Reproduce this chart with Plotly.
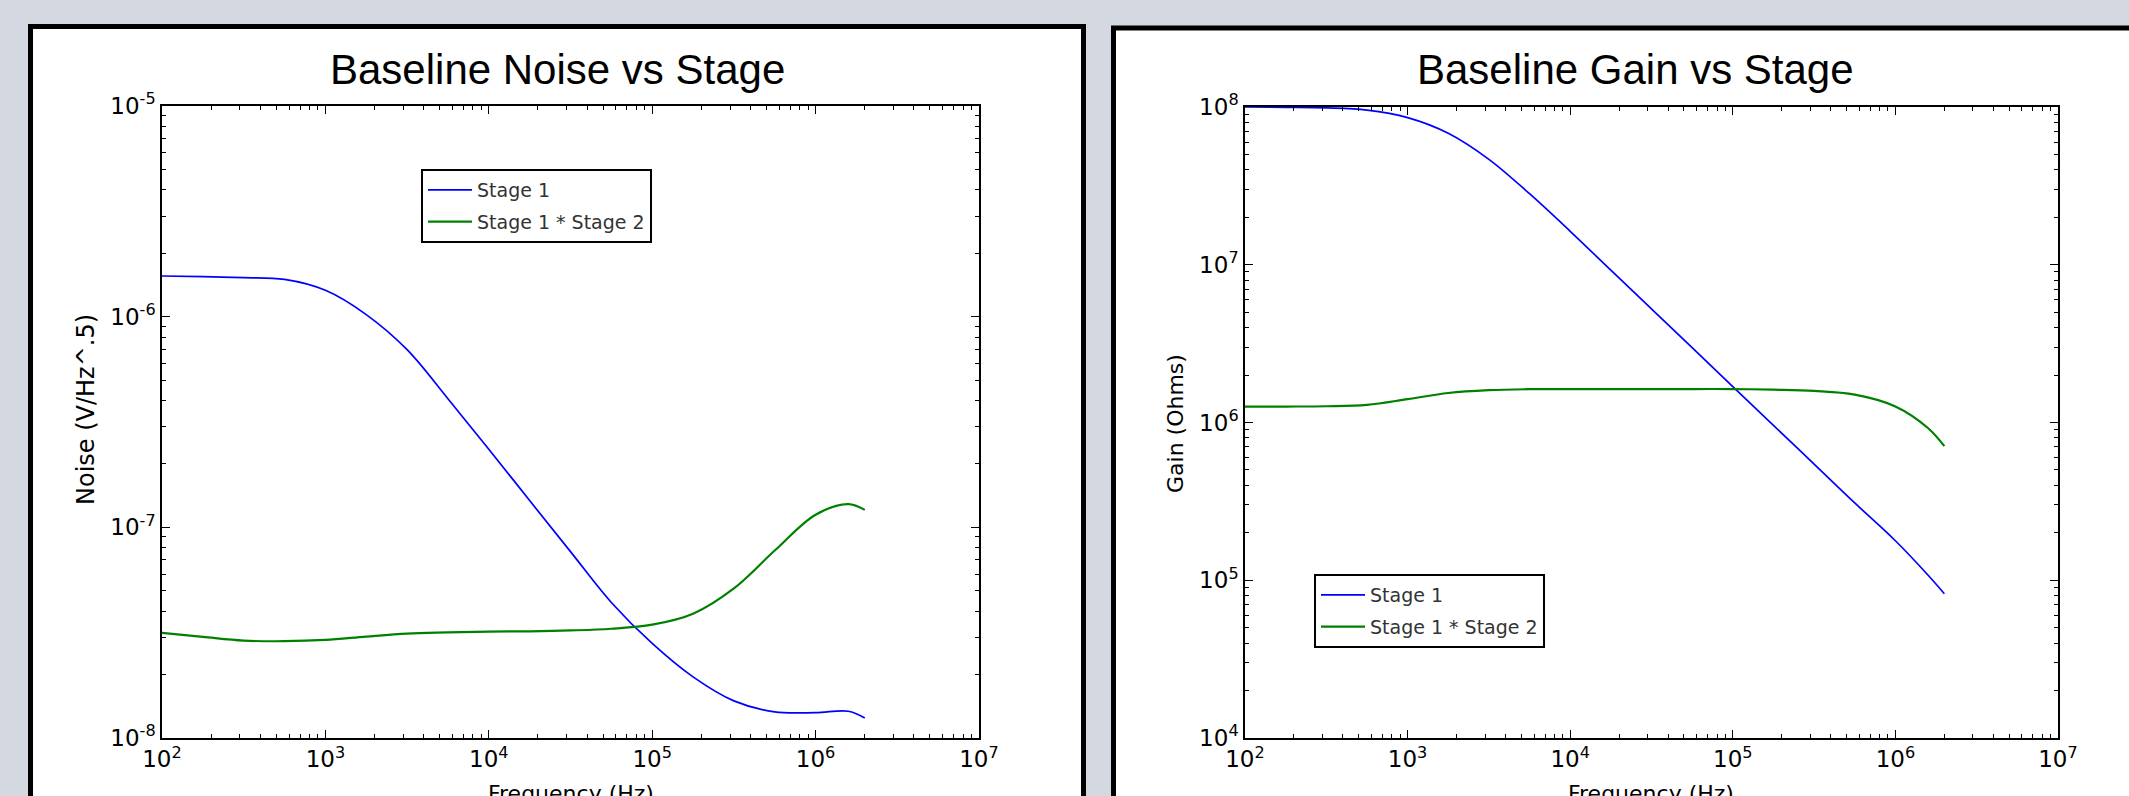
import plotly.graph_objects as go

W, H = 2129, 796

# ---------------- data ----------------
freq_hz = [100, 178, 316, 562, 1000, 1778, 3162, 5623, 1e4, 1.778e4, 3.162e4,
           5.623e4, 1e5, 1.778e5, 3.162e5, 5.623e5, 1e6, 1.585e6, 2e6]

noise_stage1 = [1.56e-6, 1.549e-6, 1.531e-6, 1.503e-6, 1.334e-6, 1.023e-6, 6.97e-7,
                4.08e-7, 2.35e-7, 1.34e-7, 7.67e-8, 4.40e-8, 2.81e-8, 1.95e-8,
                1.50e-8, 1.33e-8, 1.32e-8, 1.34e-8, 1.245e-8]
noise_stage12 = [3.155e-8, 3.02e-8, 2.90e-8, 2.88e-8, 2.92e-8, 3.03e-8, 3.13e-8,
                 3.17e-8, 3.20e-8, 3.21e-8, 3.24e-8, 3.30e-8, 3.45e-8, 3.89e-8,
                 5.13e-8, 7.76e-8, 1.148e-7, 1.29e-7, 1.21e-7]

gain_stage1 = [1.0e8, 9.95e7, 9.86e7, 9.55e7, 8.57e7, 6.82e7, 4.66e7, 2.82e7,
               1.63e7, 9.25e6, 5.25e6, 2.98e6, 1.69e6, 9.59e5, 5.45e5, 3.09e5,
               1.78e5, 1.08e5, 8.22e4]
gain_stage12 = [1.259e6, 1.262e6, 1.268e6, 1.294e6, 1.406e6, 1.538e6, 1.603e6,
                1.626e6, 1.629e6, 1.63e6, 1.63e6, 1.63e6, 1.63e6, 1.614e6,
                1.585e6, 1.503e6, 1.265e6, 9.23e5, 7.08e5]

series_names = ["Stage 1", "Stage 1 * Stage 2"]
panel_titles = ["Baseline Noise vs Stage", "Baseline Gain vs Stage"]
x_title = "Frequency (Hz)"
y_titles = ["Noise (V/Hz^.5)", "Gain (Ohms)"]

x_exps = [2, 3, 4, 5, 6, 7]
y1_exps = [-8, -7, -6, -5]
y2_exps = [4, 5, 6, 7, 8]

# ---------------- styling ----------------
BLUE = "#0000ff"
GREEN = "#008000"
BG = "#d3d8e1"


def px(x):
    return x / W


def py(y):
    return 1 - y / H


def minor_vals(e0, e1):
    return [k * 10.0 ** e for e in range(e0, e1) for k in range(2, 10)]


fig = go.Figure()

line_blue = dict(color=BLUE, width=1.7, shape="spline", smoothing=1.0)
line_green = dict(color=GREEN, width=2.2, shape="spline", smoothing=1.0)

fig.add_trace(go.Scatter(x=freq_hz, y=noise_stage1, name=series_names[0], mode="lines",
                         line=line_blue, xaxis="x", yaxis="y",
                         legend="legend", legendgroup="a"))
fig.add_trace(go.Scatter(x=freq_hz, y=noise_stage12, name=series_names[1], mode="lines",
                         line=line_green, xaxis="x", yaxis="y",
                         legend="legend", legendgroup="b"))
fig.add_trace(go.Scatter(x=freq_hz, y=gain_stage1, name=series_names[0], mode="lines",
                         line=line_blue, xaxis="x2", yaxis="y2",
                         legend="legend2", legendgroup="c"))
fig.add_trace(go.Scatter(x=freq_hz, y=gain_stage12, name=series_names[1], mode="lines",
                         line=line_green, xaxis="x2", yaxis="y2",
                         legend="legend2", legendgroup="d"))

tick_font = dict(family="DejaVu Sans", size=23, color="black")


def axis_common():
    return dict(type="log", showgrid=False, zeroline=False, showline=True,
                linecolor="black", linewidth=1.5, mirror="allticks",
                ticks="inside", ticklen=8, tickwidth=1, tickcolor="black",
                tickfont=tick_font, tickmode="array", fixedrange=True,
                automargin=False)


xa = axis_common()
xa.update(domain=[px(162), px(979)], range=[2, 7], anchor="y",
          tickvals=[10.0 ** e for e in x_exps],
          ticktext=[f"10<sup>{e}</sup>" for e in x_exps],
          minor=dict(ticks="inside", ticklen=4, tickcolor="black",
                     tickvals=minor_vals(2, 7)))
ya = axis_common()
ya.update(domain=[py(738), py(106)], range=[-8, -5], anchor="x",
          tickvals=[10.0 ** e for e in y1_exps],
          ticktext=[f"10<sup>{e}</sup>" for e in y1_exps],
          minor=dict(ticks="inside", ticklen=4, tickcolor="black",
                     tickvals=minor_vals(-8, -5)))
xa2 = axis_common()
xa2.update(domain=[px(1245), px(2058)], range=[2, 7], anchor="y2",
           tickvals=[10.0 ** e for e in x_exps],
           ticktext=[f"10<sup>{e}</sup>" for e in x_exps],
           minor=dict(ticks="inside", ticklen=4, tickcolor="black",
                      tickvals=minor_vals(2, 7)))
ya2 = axis_common()
ya2.update(domain=[py(738), py(107)], range=[4, 8], anchor="x2",
           tickvals=[10.0 ** e for e in y2_exps],
           ticktext=[f"10<sup>{e}</sup>" for e in y2_exps],
           minor=dict(ticks="inside", ticklen=4, tickcolor="black",
                      tickvals=minor_vals(4, 8)))

legend_common = dict(bgcolor="white", bordercolor="black", borderwidth=2,
                     font=dict(family="DejaVu Sans", size=19, color="#333333"),
                     xanchor="left", yanchor="top", tracegroupgap=4,
                     itemwidth=44)

fig.update_layout(
    width=W, height=H,
    margin=dict(l=0, r=0, t=0, b=0, pad=0, autoexpand=False),
    paper_bgcolor=BG, plot_bgcolor="white",
    showlegend=True,
    xaxis=xa, yaxis=ya, xaxis2=xa2, yaxis2=ya2,
    legend=dict(x=px(421), y=py(169), **legend_common),
    legend2=dict(x=px(1314), y=py(574), **legend_common),
    shapes=[
        dict(type="rect", xref="paper", yref="paper", layer="below",
             x0=px(30.5), x1=px(1083.5), y0=-0.1, y1=py(26.5),
             line=dict(color="black", width=5), fillcolor="white"),
        dict(type="rect", xref="paper", yref="paper", layer="below",
             x0=px(1113.5), x1=1.1, y0=-0.1, y1=py(28),
             line=dict(color="black", width=5), fillcolor="white"),
    ],
    annotations=[
        dict(text=panel_titles[0], xref="paper", yref="paper", x=px(557), y=py(69),
             xanchor="center", yanchor="middle", showarrow=False,
             font=dict(family="Liberation Sans", size=42, color="black")),
        dict(text=panel_titles[1], xref="paper", yref="paper", x=px(1635), y=py(69),
             xanchor="center", yanchor="middle", showarrow=False,
             font=dict(family="Liberation Sans", size=42, color="black")),
        dict(text=x_title, xref="paper", yref="paper", x=px(571), y=py(779),
             xanchor="center", yanchor="top", showarrow=False,
             font=dict(family="DejaVu Sans", size=22, color="black")),
        dict(text=x_title, xref="paper", yref="paper", x=px(1651), y=py(779),
             xanchor="center", yanchor="top", showarrow=False,
             font=dict(family="DejaVu Sans", size=22, color="black")),
        dict(text=y_titles[0], xref="paper", yref="paper", x=px(86), y=py(410),
             xanchor="center", yanchor="middle", textangle=-90, showarrow=False,
             font=dict(family="DejaVu Sans", size=24, color="black")),
        dict(text=y_titles[1], xref="paper", yref="paper", x=px(1175), y=py(424),
             xanchor="center", yanchor="middle", textangle=-90, showarrow=False,
             font=dict(family="DejaVu Sans", size=22, color="black")),
    ],
)

fig.write_html("out.html",
               config={"displayModeBar": False},
               post_script="document.body.style.margin='0px';"
                           "document.body.style.overflow='hidden';")
